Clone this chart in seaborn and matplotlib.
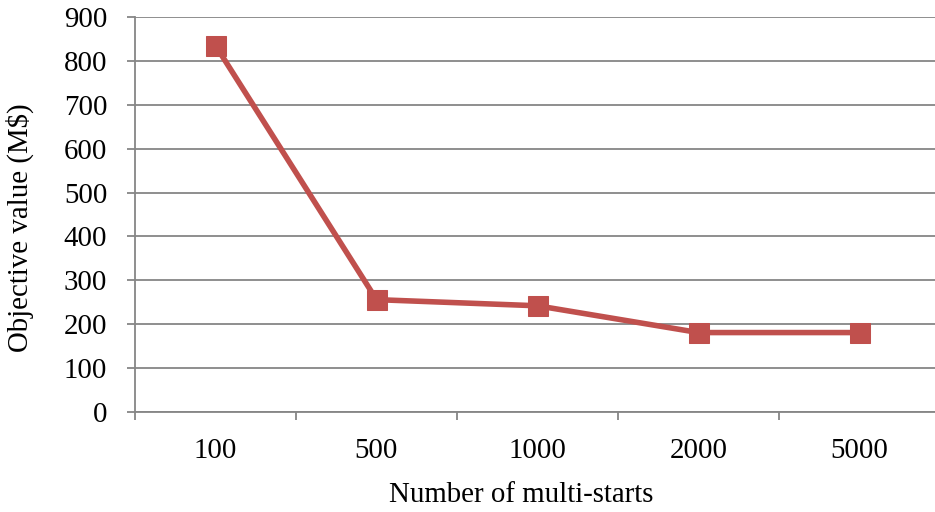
import matplotlib
matplotlib.use("Agg")
import matplotlib.pyplot as plt
import seaborn as sns
import pandas as pd

categories = ["100", "500", "1000", "2000", "5000"]
values = [835, 256, 242, 181, 181]
y_ticks = [0, 100, 200, 300, 400, 500, 600, 700, 800, 900]

sns.set_theme(style="white")
plt.rcParams["font.family"] = ["Liberation Serif", "DejaVu Serif"]

df = pd.DataFrame({"starts": categories, "value": values})

fig = plt.figure(figsize=(9.35, 5.12), dpi=100)
ax = fig.add_axes([135/935, 1-412/512, 805/935, (412-17)/512])

color = "#C0504D"
sns.lineplot(data=df, x="starts", y="value", ax=ax, color=color, linewidth=4,
             marker="s", markersize=14.5, markeredgecolor=color, markerfacecolor=color,
             sort=False, zorder=3)

ax.set_xlim(-0.5, 4.5)
ax.set_ylim(0, 900)
ax.set_yticks(y_ticks)
ax.set_yticklabels([str(v) for v in y_ticks])
ax.yaxis.grid(True, color="#868686", linewidth=1.3)
ax.xaxis.grid(False)

for s in ["top", "right"]:
    ax.spines[s].set_visible(False)
for s in ["left", "bottom"]:
    ax.spines[s].set_color("#868686")
    ax.spines[s].set_linewidth(1.3)

fs = 20.8
ax.set_xticks(range(len(categories)))
ax.set_xticklabels(categories)
ax.set_xticks([x - 0.5 for x in range(len(categories) + 1)], minor=True)
ax.tick_params(axis="x", which="major", length=0, pad=19, labelsize=fs, colors="black")
ax.tick_params(axis="x", which="minor", length=6, width=1.3, color="#868686", direction="out", bottom=True)
ax.tick_params(axis="y", which="major", length=6, width=1.3, color="#868686", direction="out", left=True, pad=14, labelsize=fs, labelcolor="black")

ax.set_xlabel("Number of multi-starts", fontsize=fs, color="black")
ax.set_ylabel("Objective value (M$)", fontsize=fs, color="black")
ax.xaxis.set_label_coords((521 - 135) / 805, (412 - 482) / 395)
ax.yaxis.set_label_coords((34 - 135) / 805, (412 - 228) / 395)

fig.savefig("out.png", dpi=100)
